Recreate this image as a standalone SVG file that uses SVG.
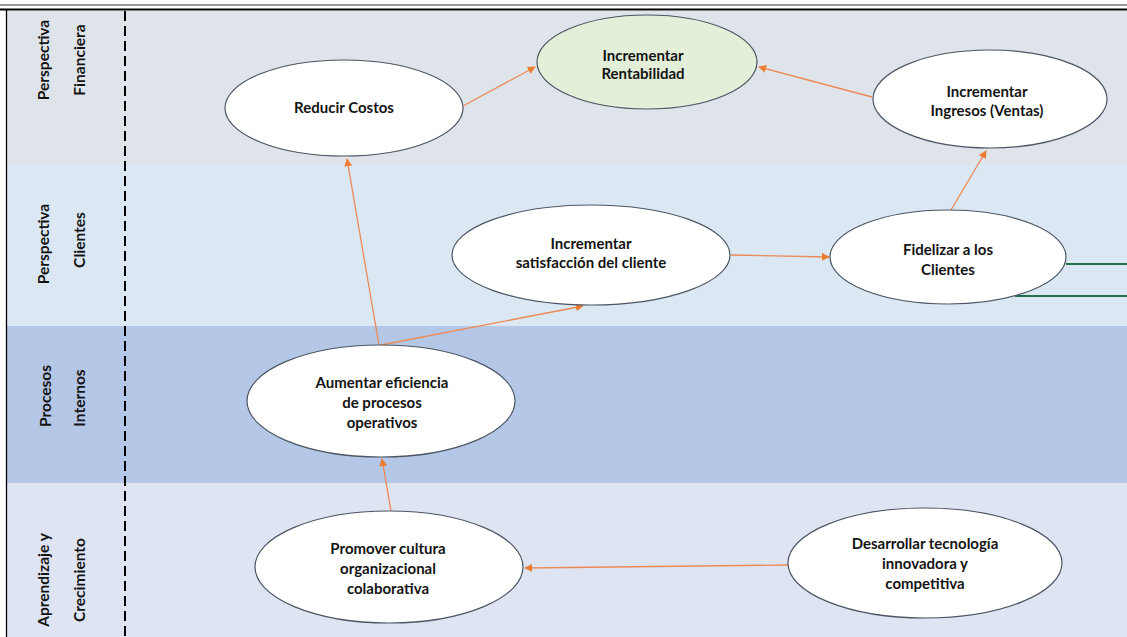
<svg xmlns="http://www.w3.org/2000/svg" width="1127" height="637" viewBox="0 0 1127 637">
<defs>
<style>
.lane{font-family:Lato,"Liberation Sans",sans-serif;font-weight:bold;font-size:15.5px;fill:#141414;text-anchor:middle}
.nt{font-family:Lato,"Liberation Sans",sans-serif;font-weight:bold;font-size:15px;fill:#141414;text-anchor:middle}
.node{fill:#ffffff;stroke:#4b5662;stroke-width:1.2}
.conn{stroke:#ec8a55;stroke-width:1.3;fill:none;marker-end:url(#ah)}
.green{stroke:#23714a;stroke-width:2;fill:none}
</style>
<marker id="ah" viewBox="0 0 10 10" refX="9" refY="5" markerWidth="8" markerHeight="8" markerUnits="userSpaceOnUse" orient="auto">
<path d="M0,0 L10,5 L0,10 z" fill="#ec7d31"/>
</marker>
</defs>
<rect x="0" y="0" width="1127" height="637" fill="#ffffff"/>
<g id="bands">
<rect x="7" y="11" width="1120" height="154" fill="#dfe3ea"/>
<rect x="7" y="165" width="1120" height="161" fill="#dbe8f4"/>
<rect x="7" y="326" width="1120" height="157" fill="#b5c7e7"/>
<rect x="7" y="483" width="1120" height="154" fill="#dfe4f3"/>
</g>
<g id="frame">
<line x1="0" y1="5" x2="1127" y2="5" stroke="#777" stroke-width="1.5"/>
<line x1="0" y1="9.5" x2="1127" y2="9.5" stroke="#000" stroke-width="1.8"/>
<line x1="6.5" y1="9" x2="6.5" y2="637" stroke="#000" stroke-width="1.3"/>
<line x1="125" y1="11" x2="125" y2="637" stroke="#000" stroke-width="2" stroke-dasharray="10,5"/>
</g>
<g id="lane-labels">
<text class="lane" transform="translate(49,60) rotate(-90)">Perspectiva</text>
<text class="lane" transform="translate(85,60) rotate(-90)">Financiera</text>
<text class="lane" transform="translate(49,244) rotate(-90)">Perspectiva</text>
<text class="lane" transform="translate(85,240) rotate(-90)">Clientes</text>
<text class="lane" transform="translate(51,396) rotate(-90)">Procesos</text>
<text class="lane" transform="translate(85,398) rotate(-90)">Internos</text>
<text class="lane" transform="translate(49,580) rotate(-90)">Aprendizaje y</text>
<text class="lane" transform="translate(85,580) rotate(-90)">Crecimiento</text>
</g>
<g id="connectors">
<line class="conn" x1="463" y1="106" x2="535" y2="67"/>
<line class="conn" x1="872" y1="97" x2="759" y2="67"/>
<line class="conn" x1="951" y1="210" x2="986" y2="151"/>
<line class="conn" x1="731" y1="255" x2="829" y2="257"/>
<line class="conn" x1="379" y1="345" x2="347" y2="159"/>
<line class="conn" x1="381" y1="345" x2="583" y2="306"/>
<line class="conn" x1="391" y1="511" x2="382" y2="459"/>
<line class="conn" x1="788" y1="565" x2="525" y2="568"/>
<line class="green" x1="1066" y1="264" x2="1127" y2="264"/>
<line class="green" x1="1015" y1="296" x2="1127" y2="296"/>
</g>
<g id="n-reducir">
<ellipse class="node" cx="344" cy="108" rx="119" ry="48"/>
<text class="nt" x="344" y="113">Reducir Costos</text>
</g>
<g id="n-rentabilidad">
<ellipse class="node" cx="647" cy="62" rx="110" ry="47" style="fill:#e3efd9"/>
<text class="nt" x="643" y="61">Incrementar</text>
<text class="nt" x="643" y="79">Rentabilidad</text>
</g>
<g id="n-ingresos">
<ellipse class="node" cx="990" cy="99" rx="117" ry="49"/>
<text class="nt" x="987" y="97">Incrementar</text>
<text class="nt" x="987" y="116">Ingresos (Ventas)</text>
</g>
<g id="n-satisfaccion">
<ellipse class="node" cx="591" cy="255" rx="139" ry="50"/>
<text class="nt" x="591" y="249">Incrementar</text>
<text class="nt" x="591" y="268">satisfacción del cliente</text>
</g>
<g id="n-fidelizar">
<ellipse class="node" cx="948" cy="257" rx="118" ry="47"/>
<text class="nt" x="948" y="255">Fidelizar a los</text>
<text class="nt" x="948" y="275">Clientes</text>
</g>
<g id="n-eficiencia">
<ellipse class="node" cx="381" cy="401" rx="134" ry="56"/>
<text class="nt" x="382" y="388">Aumentar eficiencia</text>
<text class="nt" x="382" y="408">de procesos</text>
<text class="nt" x="382" y="428">operativos</text>
</g>
<g id="n-cultura">
<ellipse class="node" cx="389" cy="567" rx="134" ry="56"/>
<text class="nt" x="388" y="554">Promover cultura</text>
<text class="nt" x="388" y="574">organizacional</text>
<text class="nt" x="388" y="594">colaborativa</text>
</g>
<g id="n-tecnologia">
<ellipse class="node" cx="925" cy="563" rx="137" ry="55"/>
<text class="nt" x="925" y="549">Desarrollar tecnología</text>
<text class="nt" x="925" y="569">innovadora y</text>
<text class="nt" x="925" y="589">competitiva</text>
</g>
</svg>
